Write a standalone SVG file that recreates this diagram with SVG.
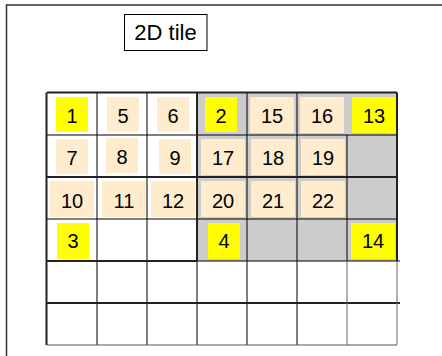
<svg xmlns="http://www.w3.org/2000/svg" width="442" height="356" viewBox="0 0 442 356">
<style>
.y{fill:#ffff00}
.p{fill:#ffebcd}
.t{font-family:"Liberation Sans",Arial,sans-serif;font-size:20px;fill:#000;text-anchor:middle}
.thin{stroke:#000;stroke-width:1;fill:none}
.thick{stroke:#222;stroke-width:2;fill:none}
</style>
<rect width="442" height="356" fill="#fff"/>
<rect x="6.5" y="5" width="460" height="380" fill="none" stroke="#333" stroke-width="1.5"/>
<g id="title">
<rect x="124.5" y="14.5" width="82.5" height="36" fill="#fff" stroke="#000" stroke-width="1"/>
<text x="165.5" y="40" class="t" style="font-size:22px">2D tile</text>
</g>
<rect x="197" y="93" width="200" height="168" fill="#cccccc"/>
<g id="gridlines">
<path class="thin" d="M97 93V345M147 93V345M197 261V345M247 93V345M297 93V345M47 135H397M47 219H397M47 261H400"/>
<path d="M47 345H397" stroke="#555" stroke-width="1"/>
<path class="thick" d="M47 92.5H397M46.5 92.5V345M47 177H397M47 303H400M197 92.5V261M397 92.5V261M47 261H197"/>
<path d="M397 261V345M347 261V345" stroke="#666" stroke-width="1"/>
<path d="M347 135V261" stroke="#000" stroke-width="1"/>
</g>
<g id="cells">
<rect class="y" x="56" y="97" width="32" height="35"/><text class="t" x="72" y="122.5">1</text>
<rect class="p" x="107" y="97" width="32" height="35"/><text class="t" x="123" y="122.5">5</text>
<rect class="p" x="157" y="97" width="32" height="35"/><text class="t" x="173" y="122.5">6</text>
<rect class="y" x="205" y="97" width="32" height="35"/><text class="t" x="221" y="122.5">2</text>
<rect class="p" x="250" y="97" width="44" height="36"/><text class="t" x="272" y="122.5">15</text>
<rect class="p" x="300" y="97" width="44" height="36"/><text class="t" x="322" y="122.5">16</text>
<rect class="y" x="352" y="97" width="44" height="36"/><text class="t" x="374" y="122.5">13</text>
<rect class="p" x="56" y="139" width="32" height="35"/><text class="t" x="72" y="165">7</text>
<rect class="p" x="106" y="138" width="32" height="35"/><text class="t" x="122" y="164">8</text>
<rect class="p" x="159" y="139" width="32" height="35"/><text class="t" x="175" y="165">9</text>
<rect class="p" x="201" y="139" width="44" height="36"/><text class="t" x="223" y="165">17</text>
<rect class="p" x="251" y="139" width="44" height="36"/><text class="t" x="273" y="165">18</text>
<rect class="p" x="301" y="139" width="44" height="36"/><text class="t" x="323" y="165">19</text>
<rect class="p" x="50" y="181" width="44" height="36"/><text class="t" x="72" y="207.5">10</text>
<rect class="p" x="102" y="181" width="44" height="36"/><text class="t" x="124" y="207.5">11</text>
<rect class="p" x="151" y="181" width="44" height="36"/><text class="t" x="173" y="207.5">12</text>
<rect class="p" x="201" y="181" width="44" height="36"/><text class="t" x="223" y="207.5">20</text>
<rect class="p" x="251" y="181" width="44" height="36"/><text class="t" x="273" y="207.5">21</text>
<rect class="p" x="301" y="181" width="44" height="36"/><text class="t" x="323" y="207.5">22</text>
<rect class="y" x="57" y="223" width="32" height="36"/><text class="t" x="73" y="248">3</text>
<rect class="y" x="208" y="223" width="32" height="36"/><text class="t" x="224" y="248">4</text>
<rect class="y" x="351" y="223" width="44" height="36"/><text class="t" x="373" y="248">14</text>
</g>
</svg>
